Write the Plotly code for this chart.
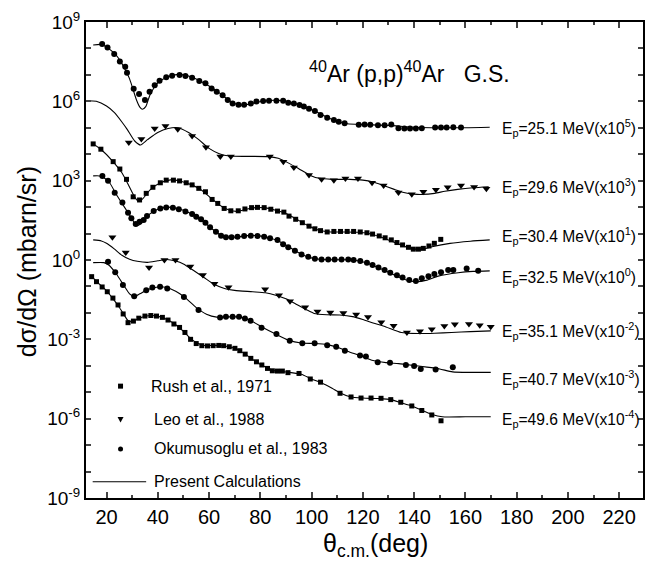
import plotly.graph_objects as go

# ---------------- data (angles in deg c.m.; values are log10 of plotted dσ/dΩ incl. scale factor) -------------
# Ep = 25.1 MeV (x10^5) — Okumusoglu et al., 1983 (circles)
ang_e251 = [18.3, 20.4, 23.0, 25.2, 27.3, 28.0, 30.6, 32.7, 35.0, 36.8,
            38.8, 40.7, 43.3, 45.6, 48.5, 50.8, 53.4, 56.2, 58.6, 61.0,
            63.0, 65.3, 67.3, 69.2, 71.5, 73.7, 76.3, 78.5, 81.1, 83.4,
            86.3, 88.9, 90.9, 93.1, 95.3, 97.0, 99.0, 101.3, 103.5, 106.1,
            108.7, 110.6, 112.9, 118.4, 120.7, 122.9, 125.9, 128.5, 131.1, 133.9,
            136.2, 138.4, 140.7, 143.0, 148.2, 150.5, 152.7, 155.3, 158.3]
lg_e251 = [8.17, 8.04, 7.79, 7.51, 7.31, 7.08, 6.48, 6.28, 6.05, 6.36,
           6.61, 6.78, 6.91, 6.97, 7.00, 6.96, 6.89, 6.77, 6.68, 6.49,
           6.36, 6.23, 6.05, 5.92, 5.87, 5.87, 5.92, 5.99, 6.01, 6.02,
           6.02, 6.02, 5.95, 5.92, 5.86, 5.80, 5.72, 5.63, 5.48, 5.38,
           5.29, 5.23, 5.17, 5.11, 5.12, 5.11, 5.10, 5.10, 5.12, 4.98,
           4.97, 4.97, 4.97, 4.98, 5.01, 5.01, 5.01, 5.02, 5.01]
ang_c251 = [14.8, 18, 20, 23, 25.2, 27, 29, 31.7, 33, 34,
            35.3, 37, 40, 44, 48, 52, 56, 60, 64, 68,
            71, 74, 78, 82, 86, 90, 94, 98, 102, 106,
            110, 114, 120, 130, 140, 150, 160, 169.5]
lg_c251 = [8.13, 8.15, 8.05, 7.82, 7.56, 7.25, 6.85, 6.05, 5.78, 5.70,
           5.80, 6.25, 6.70, 6.93, 7.02, 6.96, 6.80, 6.58, 6.32, 6.02,
           5.88, 5.86, 5.95, 6.02, 6.04, 6.00, 5.90, 5.77, 5.60, 5.40,
           5.25, 5.15, 5.12, 5.09, 5.02, 5.00, 5.00, 5.02]

# Ep = 29.6 MeV (x10^3) — Leo et al., 1988 (triangles)
ang_e296 = [28.7, 33.6, 38.8, 43.0, 47.8, 53.4, 58.8, 64.4, 68.5, 83.7,
            89.0, 93.1, 99.0, 103.9, 108.7, 113.2, 118.1, 123.6, 128.1, 133.9,
            139.1, 143.6, 148.5, 153.1, 158.3, 163.4, 168.2]
lg_e296 = [4.44, 4.58, 4.97, 5.07, 4.94, 4.69, 4.26, 3.91, 3.91, 3.91,
           3.72, 3.50, 3.21, 3.05, 3.02, 3.08, 3.08, 2.92, 2.82, 2.55,
           2.49, 2.58, 2.66, 2.75, 2.82, 2.76, 2.69]
ang_c296 = [12.2, 16, 20, 23, 26, 28, 31, 33.3, 36, 40,
            44, 48, 52, 56, 60, 64, 68, 76, 83, 87,
            90, 95, 100, 103, 108, 115, 120, 124, 128, 132,
            136, 140, 143, 148, 152, 157, 163, 169.1]
lg_c296 = [6.02, 6.00, 5.82, 5.58, 5.22, 4.95, 4.50, 4.35, 4.55, 4.82,
           4.97, 5.00, 4.82, 4.55, 4.22, 4.02, 3.93, 3.92, 3.91, 3.85,
           3.72, 3.45, 3.18, 3.09, 3.05, 3.05, 3.02, 2.95, 2.82, 2.68,
           2.55, 2.49, 2.48, 2.52, 2.60, 2.67, 2.73, 2.77]

# Ep = 30.4 MeV (x10^1) — Rush et al., 1971 (squares)
ang_e304 = [14.8, 17.8, 22.6, 25.2, 27.8, 30.4, 32.9, 35.5, 38.1, 41.0,
            43.3, 46.1, 48.5, 51.1, 53.4, 56.0, 58.6, 61.2, 63.4, 65.9,
            68.5, 71.4, 74.0, 76.6, 78.9, 81.5, 84.1, 86.7, 89.2, 91.2,
            93.8, 96.4, 99.0, 101.3, 103.5, 106.1, 108.7, 111.3, 113.9, 116.4,
            119.0, 121.6, 123.8, 126.4, 128.7, 131.1, 133.3, 135.5, 137.8, 139.7,
            141.7, 143.6, 145.8, 147.9, 150.4]
lg_e304 = [4.39, 4.19, 3.72, 3.44, 3.05, 2.39, 2.27, 2.52, 2.75, 2.92,
           3.02, 3.02, 2.99, 2.92, 2.84, 2.71, 2.58, 2.29, 2.14, 1.95,
           1.86, 1.86, 1.93, 1.98, 1.99, 1.98, 1.92, 1.85, 1.81, 1.66,
           1.54, 1.41, 1.28, 1.18, 1.11, 1.06, 1.08, 1.08, 1.08, 1.08,
           1.06, 1.03, 0.98, 0.91, 0.84, 0.76, 0.66, 0.57, 0.48, 0.41,
           0.41, 0.44, 0.53, 0.63, 0.78]
ang_c304 = [14.8, 18, 22, 26, 29, 31, 32.5, 34, 37, 41,
            45, 49, 53, 57, 61, 65, 68, 71, 75, 78,
            82, 86, 90, 94, 98, 102, 106, 112, 118, 122,
            126, 130, 134, 138, 141, 144, 147, 154, 162, 169.5]
lg_c304 = [4.39, 4.17, 3.78, 3.30, 2.75, 2.38, 2.22, 2.30, 2.65, 2.92,
           3.03, 2.98, 2.85, 2.65, 2.32, 2.02, 1.88, 1.84, 1.93, 1.98,
           1.97, 1.88, 1.76, 1.55, 1.33, 1.15, 1.07, 1.06, 1.05, 1.01,
           0.90, 0.76, 0.60, 0.46, 0.40, 0.42, 0.50, 0.63, 0.71, 0.76]

# Ep = 32.5 MeV (x10^0) — Okumusoglu et al., 1983 (circles)
ang_e325 = [18.4, 20.6, 23.2, 26.2, 28.4, 29.7, 31.4, 32.9, 34.5, 35.8,
            38.4, 41.0, 43.3, 45.9, 48.2, 50.8, 53.4, 55.0, 56.9, 58.6,
            60.4, 62.7, 64.7, 66.6, 68.8, 71.1, 73.7, 76.3, 78.9, 81.5,
            83.8, 86.7, 88.9, 90.9, 93.5, 96.1, 98.7, 101.3, 103.9, 106.5,
            109.0, 111.7, 114.3, 116.4, 119.0, 121.6, 123.8, 126.1, 128.5, 130.7,
            133.3, 135.5, 138.1, 140.7, 143.0, 145.6, 147.9, 150.5, 153.3, 155.3,
            160.5, 165.0]
lg_e325 = [3.18, 3.00, 2.54, 2.17, 1.79, 1.58, 1.36, 1.45, 1.51, 1.66,
           1.85, 1.95, 1.99, 1.98, 1.92, 1.83, 1.74, 1.64, 1.54, 1.41,
           1.24, 1.07, 0.92, 0.86, 0.86, 0.88, 0.91, 0.92, 0.91, 0.88,
           0.82, 0.76, 0.60, 0.48, 0.35, 0.21, 0.12, 0.05, 0.02, 0.02,
           0.02, 0.02, 0.02, 0.00, -0.04, -0.10, -0.19, -0.28, -0.38, -0.48,
           -0.58, -0.66, -0.76, -0.79, -0.69, -0.61, -0.53, -0.46, -0.38, -0.38,
           -0.32, -0.41]
ang_c325 = [14.8, 18, 21, 24, 27, 29.5, 31.7, 33.5, 36, 40,
            44, 48, 52, 56, 60, 64, 67, 71, 75, 79,
            83, 87, 91, 95, 99, 103, 108, 114, 118, 122,
            126, 130, 134, 138, 141, 145, 149.4, 157.2, 163, 169.5]
lg_c325 = [3.18, 3.17, 2.95, 2.45, 2.00, 1.62, 1.30, 1.38, 1.68, 1.92,
           2.00, 1.94, 1.80, 1.58, 1.27, 0.97, 0.86, 0.87, 0.92, 0.92,
           0.85, 0.72, 0.50, 0.27, 0.10, 0.03, 0.01, 0.01, -0.03, -0.13,
           -0.28, -0.46, -0.64, -0.78, -0.82, -0.76, -0.61, -0.48, -0.43, -0.41]

# Ep = 35.1 MeV (x10^-2) — Leo et al., 1988 (triangles)
ang_e351 = [22.3, 27.5, 36.6, 42.6, 46.9, 52.7, 57.6, 62.1, 67.6, 81.9,
            87.3, 91.6, 97.5, 102.3, 107.3, 112.4, 117.4, 122.0, 127.2, 132.0,
            137.2, 142.3, 146.9, 151.8, 155.9, 161.4, 165.6, 169.9]
lg_e351 = [0.86, 0.28, -0.28, 0.00, 0.00, -0.25, -0.57, -0.90, -1.03, -1.11,
           -1.33, -1.56, -1.79, -1.95, -1.99, -2.00, -2.06, -2.16, -2.35, -2.49,
           -2.74, -2.69, -2.62, -2.50, -2.43, -2.42, -2.47, -2.52]
ang_c351 = [14.8, 18, 20, 23, 26, 29, 32, 36, 40, 43.5,
            47, 50, 54, 58, 62, 66, 70, 77, 82, 86,
            90, 94, 98, 101, 106, 111, 116, 120, 124, 129,
            135, 141.7, 148, 154.6, 162, 169.9]
lg_c351 = [0.76, 0.72, 0.63, 0.42, 0.18, 0.03, -0.05, -0.09, -0.03, 0.02,
           -0.04, -0.15, -0.40, -0.66, -0.92, -1.08, -1.15, -1.20, -1.24, -1.33,
           -1.47, -1.67, -1.88, -2.02, -2.07, -2.08, -2.14, -2.25, -2.38, -2.53,
           -2.74, -2.78, -2.77, -2.74, -2.71, -2.68]

# Ep = 40.7 MeV (x10^-3) — Okumusoglu et al., 1983 (circles)
ang_e407 = [20.6, 23.4, 26.4, 30.8, 35.5, 37.9, 40.9, 43.7, 50.2, 55.9,
            64.3, 66.6, 69.2, 71.7, 74.0, 76.2, 80.5, 86.3, 91.5, 96.4,
            101.2, 106.1, 109.6, 113.0, 118.9, 121.2, 125.8, 130.6, 136.8, 140.0,
            142.6, 148.4, 155.1]
lg_e407 = [-0.07, -0.46, -0.95, -1.37, -1.14, -1.04, -1.01, -1.08, -1.40, -1.89,
           -2.17, -2.15, -2.15, -2.15, -2.21, -2.30, -2.56, -2.80, -3.05, -3.15,
           -3.15, -3.22, -3.28, -3.43, -3.61, -3.65, -3.87, -3.89, -3.97, -4.01,
           -4.12, -4.14, -4.06]
ang_c407 = [14.8, 19, 21, 24, 27, 29, 30.8, 33, 36, 40,
            43, 47, 51, 55, 59, 63, 67, 71, 74, 77,
            81, 86, 91, 96, 101, 106, 110, 114, 119, 124,
            129, 134, 140, 145, 150, 155, 162, 169.9]
lg_c407 = [-0.10, -0.10, -0.20, -0.55, -1.00, -1.28, -1.38, -1.28, -1.12, -1.02,
           -1.03, -1.18, -1.45, -1.80, -2.05, -2.16, -2.15, -2.15, -2.20, -2.33,
           -2.55, -2.80, -3.03, -3.14, -3.16, -3.20, -3.30, -3.45, -3.62, -3.80,
           -3.88, -3.92, -3.99, -4.05, -4.12, -4.23, -4.25, -4.25]

# Ep = 49.6 MeV (x10^-4) — Rush et al., 1971 (squares)
ang_e496 = [14.2, 16.1, 18.3, 20.3, 22.5, 24.5, 26.5, 28.4, 30.5, 32.6,
            35.0, 37.3, 39.5, 41.8, 44.0, 46.3, 48.5, 50.6, 52.8, 55.0,
            57.2, 59.4, 61.6, 63.8, 65.7, 67.9, 70.1, 72.0, 74.1, 76.3,
            78.5, 80.6, 82.8, 84.7, 86.7, 88.6, 90.8, 95.1, 99.5, 103.5,
            111.1, 115.4, 119.3, 123.2, 127.1, 130.9, 134.8, 139.1, 143.0, 146.9,
            150.5]
lg_e496 = [-0.63, -0.82, -1.02, -1.20, -1.44, -1.70, -2.04, -2.37, -2.31, -2.20,
           -2.12, -2.10, -2.12, -2.17, -2.27, -2.42, -2.55, -2.74, -3.00, -3.16,
           -3.24, -3.25, -3.24, -3.23, -3.24, -3.28, -3.34, -3.43, -3.56, -3.72,
           -3.85, -3.97, -4.10, -4.19, -4.20, -4.20, -4.26, -4.29, -4.50, -4.62,
           -5.04, -5.18, -5.22, -5.22, -5.23, -5.28, -5.38, -5.52, -5.69, -5.86,
           -6.08]
ang_c496 = [14.5, 16, 18.5, 20.5, 22.5, 24.5, 26.5, 28.5, 30, 32,
            35, 38, 41, 44, 47, 50, 53, 55.5, 58, 62,
            66, 70, 74, 78, 82, 85, 88, 92, 96, 100,
            104, 108, 111, 115, 120, 126, 131, 135, 139, 143,
            147, 151, 160, 169.9]
lg_c496 = [-0.65, -0.80, -1.02, -1.22, -1.46, -1.72, -2.02, -2.30, -2.32, -2.24,
           -2.13, -2.10, -2.15, -2.27, -2.45, -2.70, -2.98, -3.15, -3.23, -3.23,
           -3.25, -3.34, -3.55, -3.83, -4.05, -4.18, -4.21, -4.26, -4.32, -4.50,
           -4.65, -4.85, -5.02, -5.17, -5.22, -5.24, -5.28, -5.40, -5.52, -5.68,
           -5.84, -5.93, -5.93, -5.93]

energies = ["25.1", "29.6", "30.4", "32.5", "35.1", "40.7", "49.6"]
scale_exp = ["5", "3", "1", "0", "-2", "-3", "-4"]
label_lg = [5.0, 2.77, 0.92, -0.66, -2.68, -4.50, -6.02]
refs = ["Rush et al., 1971", "Leo et al., 1988", "Okumusoglu et al., 1983", "Present Calculations"]

x_ticks = [20, 40, 60, 80, 100, 120, 140, 160, 180, 200, 220]
y_major = [-9, -6, -3, 0, 3, 6, 9]
y_decades = list(range(-9, 10))

# ---------------- figure ----------------
FONT = "Liberation Sans, Arial, Helvetica, sans-serif"
sets = [
    (ang_c251, lg_c251, ang_e251, lg_e251, "circle", 6),
    (ang_c296, lg_c296, ang_e296, lg_e296, "triangle-down", 7),
    (ang_c304, lg_c304, ang_e304, lg_e304, "square", 5),
    (ang_c325, lg_c325, ang_e325, lg_e325, "circle", 6),
    (ang_c351, lg_c351, ang_e351, lg_e351, "triangle-down", 7),
    (ang_c407, lg_c407, ang_e407, lg_e407, "circle", 6),
    (ang_c496, lg_c496, ang_e496, lg_e496, "square", 5),
]

fig = go.Figure()
for ac, lc, ae, le, sym, sz in sets:
    fig.add_trace(go.Scatter(
        x=ac, y=[10 ** v for v in lc], mode="lines",
        line=dict(color="black", width=1.1, shape="spline", smoothing=0.6),
        showlegend=False, hoverinfo="skip"))
    fig.add_trace(go.Scatter(
        x=ae, y=[10 ** v for v in le], mode="markers",
        marker=dict(symbol=sym, size=sz, color="black", line=dict(width=0)),
        showlegend=False))

annotations = []
for e, s, ly in zip(energies, scale_exp, label_lg):
    annotations.append(dict(
        x=173.4, y=ly, xref="x", yref="y", xanchor="left", yanchor="middle",
        text="E<sub>p</sub>=" + e + " MeV(x10<sup>" + s + "</sup>)",
        showarrow=False, font=dict(family=FONT, size=15.6, color="black")))

annotations.append(dict(
    x=0.58, y=0.895, xref="paper", yref="paper", xanchor="center", yanchor="middle",
    text="<sup>40</sup>Ar (p,p)<sup>40</sup>Ar\u00a0\u00a0\u00a0G.S.", showarrow=False,
    font=dict(family=FONT, size=23, color="black")))

# axis titles
annotations.append(dict(
    x=-0.1055, y=0.496, xref="paper", yref="paper", xanchor="center", yanchor="middle",
    text="dσ/dΩ (mbarn/sr)", textangle=-90, showarrow=False,
    font=dict(family=FONT, size=25, color="black")))
annotations.append(dict(
    x=0.519, y=-0.099, xref="paper", yref="paper", xanchor="center", yanchor="middle",
    text="θ<sub>c.m.</sub>(deg)", showarrow=False,
    font=dict(family=FONT, size=25, color="black")))

leg_y = [0.235, 0.165, 0.103, 0.034]
leg_x = [0.113, 0.118, 0.118, 0.118]
for name, lx, ly in zip(refs, leg_x, leg_y):
    annotations.append(dict(
        x=lx, y=ly, xref="paper", yref="paper", xanchor="left", yanchor="middle",
        text=name, showarrow=False, font=dict(family=FONT, size=16, color="black")))

mx = 0.062
shapes = [
    dict(type="rect", xref="paper", yref="paper", xsizemode="pixel", ysizemode="pixel",
         xanchor=mx, yanchor=leg_y[0], x0=-2.5, x1=2.5, y0=-2.5, y1=2.5,
         fillcolor="black", line=dict(width=0)),
    dict(type="path", xref="paper", yref="paper", xsizemode="pixel", ysizemode="pixel",
         xanchor=mx, yanchor=leg_y[1], path="M-3,2.5 L3,2.5 L0,-3 Z",
         fillcolor="black", line=dict(width=0)),
    dict(type="circle", xref="paper", yref="paper", xsizemode="pixel", ysizemode="pixel",
         xanchor=mx, yanchor=leg_y[2], x0=-2.5, x1=2.5, y0=-2.5, y1=2.5,
         fillcolor="black", line=dict(width=0)),
    dict(type="line", xref="paper", yref="paper", x0=0.012, x1=0.108,
         y0=leg_y[3], y1=leg_y[3], line=dict(color="black", width=1.1)),
]

fig.update_layout(
    width=651, height=563,
    margin=dict(l=86, r=6, t=22, b=65),
    paper_bgcolor="white", plot_bgcolor="white",
    font=dict(family=FONT, color="black"),
    showlegend=False,
    annotations=annotations, shapes=shapes,
    xaxis=dict(
        range=[12.0, 229.3], tickvals=x_ticks, ticks="inside", ticklen=6, tickwidth=1.5,
        minor=dict(dtick=10, tick0=0, ticks="inside", ticklen=3, tickwidth=1.5),
        showline=True, linewidth=2, linecolor="black", mirror="ticks",
        showgrid=False, zeroline=False, tickfont=dict(size=20, family=FONT)),
    yaxis=dict(
        type="log", range=[-9, 9],
        tickvals=[10 ** d for d in y_major],
        ticktext=[f"10<sup>{d}</sup>" for d in y_major],
        minor=dict(tickvals=[10 ** d for d in y_decades], ticks="inside", ticklen=5,
                   tickwidth=1.5, showgrid=False),
        ticks="inside", ticklen=5, tickwidth=1.5,
        showline=True, linewidth=2, linecolor="black", mirror="ticks",
        showgrid=False, zeroline=False, tickfont=dict(size=19, family=FONT)),
)

fig.write_html("out.html", config={"displayModeBar": False},
               post_script="document.body.style.margin='0px';")
